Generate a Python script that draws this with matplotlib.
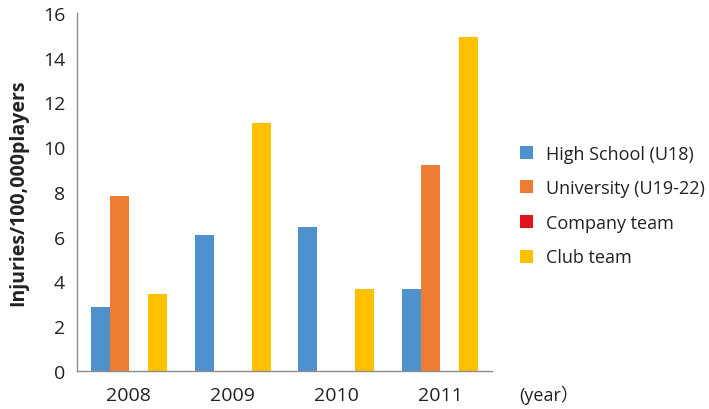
import matplotlib
matplotlib.use("Agg")
import matplotlib.pyplot as plt
import numpy as np

years = ["2008", "2009", "2010", "2011"]
series_names = ["High School (U18)", "University (U19-22)", "Company team", "Club team"]
high_school = [2.87, 6.07, 6.43, 3.66]
university = [7.8, 0.0, 0.0, 9.2]
company = [0.0, 0.0, 0.0, 0.0]
club = [3.44, 11.07, 3.66, 14.93]
colors = ["#4F91CD", "#ED7D31", "#E3151C", "#FFC000"]

plt.rcParams["font.family"] = ["Open Sans", "Noto Sans CJK JP", "DejaVu Sans"]

fig = plt.figure(figsize=(7.09, 4.10), dpi=100)
ax = fig.add_axes([0.1086, 0.0927, 0.5854, 0.8732])

x = np.arange(len(years))
w = 0.183
all_series = [high_school, university, company, club]
for i, (vals, name, c) in enumerate(zip(all_series, series_names, colors)):
    ax.bar(x + (i - 1.5) * w, vals, width=w, color=c, label=name)

ax.set_xlim(-0.5, 3.5)
ax.set_ylim(0, 16)
ax.set_yticks(range(0, 17, 2))
ax.set_xticks(x)
ax.set_xticklabels(years)
ax.tick_params(axis="both", length=0, labelsize=14, colors="#222222")
ax.tick_params(axis="y", pad=8.5)
ax.tick_params(axis="x", pad=11)
for s in ["top", "right"]:
    ax.spines[s].set_visible(False)
for s in ["left", "bottom"]:
    ax.spines[s].set_color("#8c8c8c")
    ax.spines[s].set_linewidth(1.0)

fig.text(0.026, 0.53, "Injuries/100,000players", rotation=90, ha="center", va="center",
         fontsize=14, fontweight="bold", color="#222222")

leg = fig.legend(loc="upper left", bbox_to_anchor=(0.733, 0.645), frameon=False,
                 fontsize=13, handlelength=0.72, handleheight=0.72,
                 handletextpad=0.72, labelspacing=0.92, borderpad=0, borderaxespad=0)
for t in leg.get_texts():
    t.set_color("#222222")

fig.text(0.732, 0.037, "(year）", fontsize=13, color="#222222", va="center")

fig.savefig("out.png", dpi=100)
